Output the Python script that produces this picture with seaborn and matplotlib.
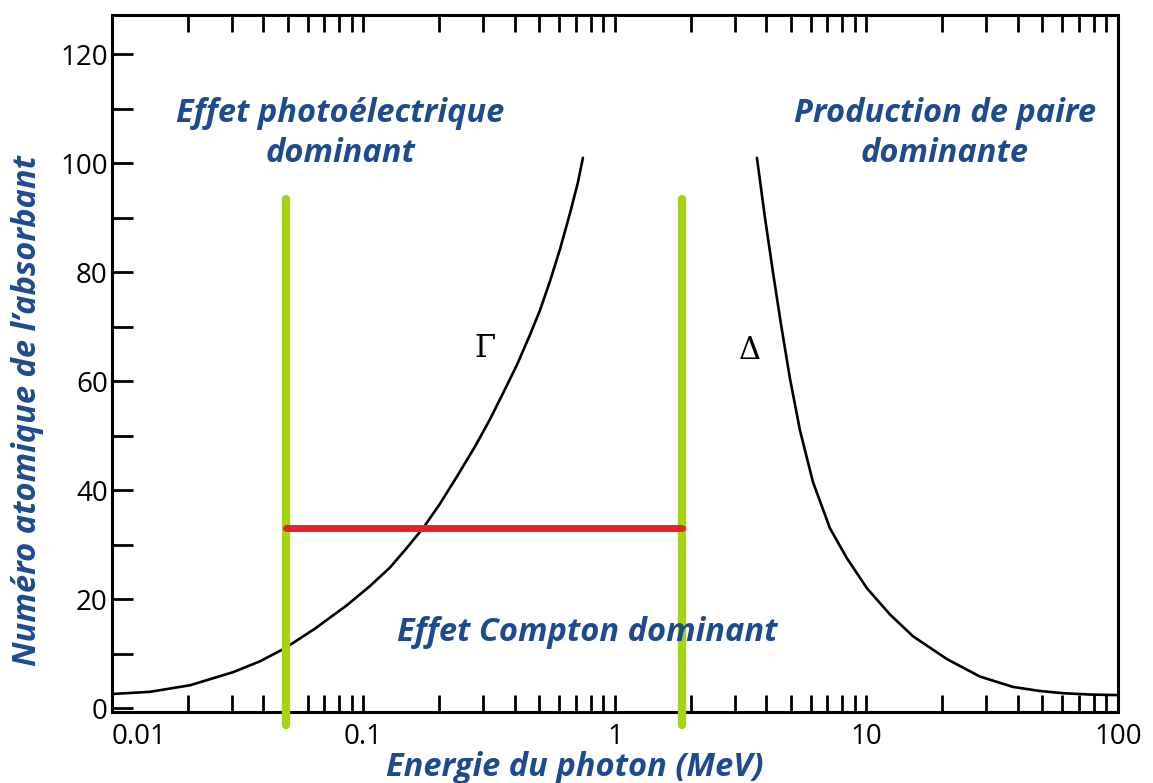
#!/usr/bin/env python3
"""
Domaines de prédominance des interactions photon-matière
"""

import matplotlib
matplotlib.use('Agg')
import matplotlib.pyplot as plt
import matplotlib.ticker as mticker
import seaborn as sns
import pandas as pd

# style
sns.set_style("white")
plt.rcParams['font.family'] = ['Open Sans', 'DejaVu Sans']

BLUE = '#1d4b8e'
GREEN = '#a6d414'
RED = '#e5202a'

# courbe Γ (photoélectrique / Compton)
gamma_e = [0.01, 0.01416, 0.02042, 0.03029, 0.03878, 0.04874, 0.06417,
           0.0860, 0.1061, 0.1274, 0.1462, 0.1724, 0.2014, 0.2353, 0.2776,
           0.3184, 0.3652, 0.4076, 0.4592, 0.5031, 0.5513, 0.6043, 0.6624,
           0.7126, 0.7459]
gamma_z = [2.6, 3.0, 4.2, 6.6, 8.6, 11.0, 14.6,
           18.9, 22.4, 25.8, 29.0, 33.0, 37.5, 42.5, 48.0,
           53.0, 58.5, 63.0, 68.5, 73.0, 78.3, 84.2, 90.8,
           96.5, 101.0]

# courbe Δ (Compton / production de paire)
delta_e = [3.669, 3.949, 4.249, 4.571, 4.964, 5.440, 6.128, 7.161, 8.366,
           10.05, 12.40, 15.31, 20.90, 28.27, 38.23, 48.97, 60.43, 77.4,
           100.0]
delta_z = [101.0, 90.0, 80.0, 70.5, 60.5, 51.0, 41.5, 33.0, 27.5,
           22.0, 17.2, 13.2, 9.0, 5.8, 3.9, 3.15, 2.75, 2.5,
           2.4]

# lignes de repère
green_e = [0.049, 1.85]
green_z = [-3, 93.5]
red_e = [0.049, 1.85]
red_z = 33

x_ticks = [0.01, 0.1, 1, 10, 100]
x_labels = ['0.01', '0.1', '1', '10', '100']
y_ticks = [0, 20, 40, 60, 80, 100, 120]

df_g = pd.DataFrame({'E': gamma_e, 'Z': gamma_z})
df_d = pd.DataFrame({'E': delta_e, 'Z': delta_z})

fig = plt.figure(figsize=(11.53, 7.83), dpi=100)
ax = fig.add_axes([0.0971, 0.0907, 0.8725, 0.8901])

sns.lineplot(data=df_g, x='E', y='Z', ax=ax, color='black', linewidth=1.9,
             sort=False, estimator=None)
sns.lineplot(data=df_d, x='E', y='Z', ax=ax, color='black', linewidth=1.9,
             sort=False, estimator=None)

ax.set_xscale('log')
ax.set_xlim(0.01, 100)
ax.set_ylim(-0.7, 127.2)

# lignes vertes et rouge
for e in green_e:
    ax.plot([e, e], green_z, color=GREEN, linewidth=6,
            solid_capstyle='round', clip_on=False, zorder=3)
ax.plot(red_e, [red_z, red_z], color=RED, linewidth=5,
        solid_capstyle='round', zorder=4)

# axes et graduations
for s in ax.spines.values():
    s.set_color('black')
    s.set_linewidth(2.2)

ax.xaxis.set_major_locator(mticker.FixedLocator(x_ticks))
ax.xaxis.set_major_formatter(mticker.FixedFormatter(x_labels))
ax.xaxis.set_minor_locator(mticker.LogLocator(base=10, subs=range(2, 10)))
ax.xaxis.set_minor_formatter(mticker.NullFormatter())
ax.yaxis.set_major_locator(mticker.FixedLocator(y_ticks))
ax.yaxis.set_minor_locator(mticker.MultipleLocator(10))

ax.tick_params(axis='x', which='both', direction='in', top=True, bottom=True,
               length=12, width=2, color='black', labelsize=20, pad=8,
               labelcolor='black')
ax.tick_params(axis='y', which='both', direction='in', left=True, right=False,
               length=15, width=2, color='black', labelsize=20, pad=3,
               labelcolor='black')
ax.get_xticklabels()[0].set_ha('left')

ax.set_xlabel('Energie du photon (MeV)', fontsize=23.5, fontweight='bold',
              fontstyle='italic', color=BLUE)
ax.set_ylabel('Numéro atomique de l’absorbant', fontsize=23.5, fontweight='bold',
              fontstyle='italic', color=BLUE)
ax.xaxis.set_label_coords(0.46, -0.056)
ax.yaxis.set_label_coords(-0.068, 0.432)

# annotations
txt = dict(fontsize=23.5, fontweight='bold', fontstyle='italic', color=BLUE,
           ha='center', va='center', linespacing=1.3)
ax.text(0.0807, 105.5, 'Effet photoélectrique\ndominant', **txt)
ax.text(20.5, 105.5, 'Production de paire\ndominante', **txt)
ax.text(0.774, 13.9, 'Effet Compton dominant', **txt)

ax.text(0.304, 66, 'Γ', fontsize=22, family='DejaVu Serif', color='black',
        ha='center', va='center')
ax.text(3.44, 65.7, 'Δ', fontsize=22, family='DejaVu Serif', color='black',
        ha='center', va='center')

plt.savefig('out.png', dpi=100)
